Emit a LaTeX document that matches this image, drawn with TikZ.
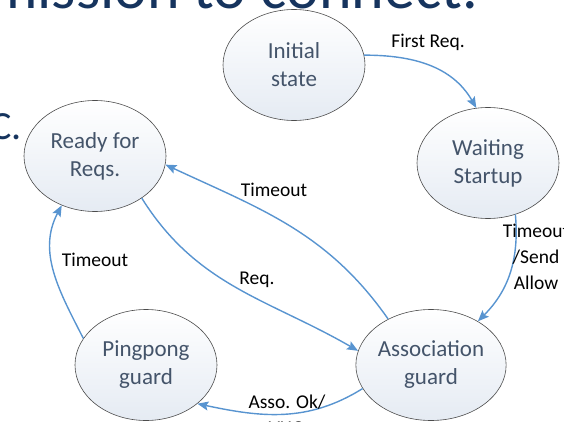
\documentclass[tikz,border=0pt]{standalone}
\usepackage{fontspec}
\setmainfont{Carlito}
\usetikzlibrary{shapes.geometric,arrows.meta}
\definecolor{titleblue}{RGB}{22,52,94}
\definecolor{statetext}{RGB}{68,84,106}
\definecolor{statefill}{RGB}{229,235,243}
\definecolor{arrowblue}{RGB}{88,148,208}
\begin{document}
\begin{tikzpicture}[x=1pt, y=1pt,
  state/.style={ellipse, draw=black!70, line width=0.6pt, top color=white,
    bottom color=statefill, minimum width=142pt, minimum height=111pt,
    inner sep=0pt, align=center, text=statetext,
    font=\fontsize{23}{28}\selectfont},
  trans/.style={draw=arrowblue, line width=1.4pt,
    -{Stealth[length=11pt,width=9pt,inset=2pt]}},
  lbl/.style={align=center, inner sep=0pt, font=\fontsize{19.5}{26}\selectfont}]
%% frame 564 x 421, y counted from the bottom
\useasboundingbox (0,0) rectangle (564,421);
\clip (0,0) rectangle (564,421);

%% --- slide text cut by the frame ---
\node[anchor=base east, inner sep=0pt, text=titleblue,
  font=\fontsize{62}{62}\selectfont] (title) at (478,412) {mission to connect.};
\node[anchor=base east, inner sep=0pt, text=titleblue,
  font=\fontsize{40}{40}\selectfont] (bullet) at (22,281) {C.};

%% --- states ---
\node[state] (init)  at (294,356) {Initial\\state};
\node[state] (wait)  at (488,258) {Waiting\\Startup};
\node[state] (ready) at (95,265)  {Ready for\\Reqs.};
\node[state] (ping)  at (146,56)  {Pingpong\\guard};
\node[state] (assoc) at (431,56)  {Association\\guard};

%% --- transitions ---
\draw[trans] (init.8)     to[out=0,   in=120]  (wait.102);
\draw[trans] (wait.-62)   to[out=-85, in=45]   (assoc.43);
\draw[trans] (assoc.133)  to[out=125, in=-25]  (ready.-7);
\draw[trans] (ready.-42)  to[out=-58, in=150]  (assoc.169);
\draw[trans] (ping.157)   to[out=117, in=-118] (ready.-124);
\draw[trans] (assoc.-161) to[out=212, in=-12]  (ping.-37);

%% --- labels ---
\node[lbl] (lfirst)  at (428,379) {First Req.};
\node[lbl] (lsend)   at (536,164) {Timeout\\/Send\\Allow};
\node[lbl] (ltimeA)  at (274,231) {Timeout};
\node[lbl] (lreq)    at (257,141) {Req.};
\node[lbl] (ltimeP)  at (95,161)  {Timeout};
\node[lbl] (lasso)   at (287,6)   {Asso. Ok/\\VHO};
\end{tikzpicture}
\end{document}
